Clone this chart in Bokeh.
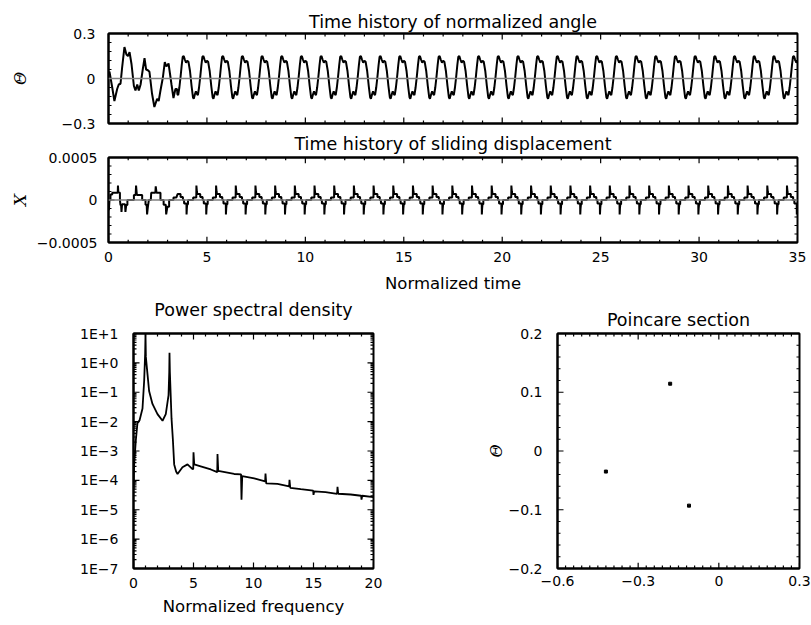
import numpy as np
from bokeh.plotting import figure
from bokeh.layouts import column, row
from bokeh.models import FixedTicker, Span, Range1d, CustomJSTickFormatter, LinearAxis
from bokeh.embed import file_html
from bokeh.resources import INLINE

# ---------------- data ----------------
# normalized angle: first (transient) cycles
theta_t_start = [0.00, 0.05, 0.19, 0.30, 0.44, 0.52, 0.61, 0.69, 0.81, 0.91, 0.99, 1.07, 1.17,
                 1.29, 1.37, 1.46, 1.54, 1.63, 1.74, 1.83, 1.91, 2.00, 2.08, 2.21, 2.33, 2.47,
                 2.55, 2.64, 2.76, 2.86, 2.94, 3.05, 3.20, 3.30, 3.40, 3.48]
theta_v_start = [0.030, 0.045, -0.060, -0.150, -0.070, -0.040, -0.035, 0.070, 0.210, 0.160,
                 0.150, 0.175, 0.095, -0.050, -0.080, -0.040, -0.080, -0.040, 0.060, 0.135,
                 0.060, 0.055, 0.045, -0.100, -0.190, -0.135, -0.150, -0.080, 0.005, 0.110,
                 0.080, 0.100, -0.040, -0.130, -0.070, -0.070]
# normalized angle: one steady-state period (position inside a unit of time, value)
theta_cycle_phase = [0.00, 0.06, 0.14, 0.22, 0.29, 0.33, 0.39, 0.44, 0.50, 0.54, 0.60, 0.66,
                     0.72, 0.77, 0.82, 0.88, 0.94]
theta_cycle_value = [0.118, 0.112, 0.050, -0.050, -0.125, -0.135, -0.105, -0.085, -0.105,
                     -0.110, -0.060, 0.010, 0.090, 0.145, 0.150, 0.125, 0.105]

# sliding displacement: first (transient) cycles
slide_t_start = [0.00, 0.02, 0.05, 0.10, 0.10, 0.19, 0.19, 0.47, 0.48, 0.50, 0.58, 0.58, 0.61,
                 0.64, 0.66, 0.69, 0.84, 0.86, 0.90, 0.96, 0.96, 1.29, 1.29, 1.38, 1.40, 1.44,
                 1.71, 1.71, 1.88, 1.88, 1.94, 1.96, 2.00, 2.05, 2.15, 2.17, 2.38, 2.40, 2.44,
                 2.64, 2.64, 2.80, 2.80, 2.91, 2.93, 2.99, 3.08, 3.08, 3.30, 3.30, 3.45]
slide_v_start = [0.0, -1.2e-4, 0.0, 0.0, 0.65e-4, 0.65e-4, 0.85e-4, 0.85e-4, 1.7e-4, 0.9e-4,
                 0.85e-4, 0.0, -0.6e-4, -0.6e-4, -1.4e-4, -0.5e-4, -0.5e-4, -1.4e-4, -0.6e-4,
                 -0.6e-4, 0.0, 0.0, 0.6e-4, 0.6e-4, 1.7e-4, 0.6e-4, 0.6e-4, 0.0, 0.0, -0.55e-4,
                 -0.55e-4, -1.7e-4, -0.8e-4, 0.0, 0.0, 0.85e-4, 0.85e-4, 1.6e-4, 0.85e-4,
                 0.85e-4, 0.0, 0.0, -0.55e-4, -0.55e-4, -1.7e-4, -0.8e-4, -0.8e-4, 0.0, 0.0,
                 0.3e-4, 0.3e-4]
# sliding displacement: one steady-state period
slide_cycle_phase = [0.00, 0.04, 0.04, 0.30, 0.30, 0.46, 0.465, 0.49, 0.51, 0.66, 0.66, 0.78,
                     0.78, 0.84, 0.84, 0.96, 0.965, 0.98]
slide_cycle_value = [-0.5e-4, -0.5e-4, 0.0, 0.0, 0.3e-4, 0.3e-4, 1.7e-4, 1.0e-4, 0.7e-4,
                     0.7e-4, 0.35e-4, 0.35e-4, 0.0, 0.0, -0.4e-4, -0.4e-4, -1.7e-4, -1.0e-4]

steady_from = 3.5
time_end = 35

# power spectral density
psd_freq = [0.0, 0.05, 0.2, 0.33, 0.5, 0.75, 0.89, 0.97, 1.0, 1.03, 1.17, 1.3, 1.58, 2.0,
            2.42, 2.69, 2.92, 2.98, 3.0, 3.03, 3.17, 3.28, 3.39, 3.55, 3.67, 4.08, 4.5, 4.92,
            4.98, 5.0, 5.06, 5.6, 6.44, 6.98, 7.0, 7.06, 8.39, 8.96, 9.0, 9.06, 10.06, 10.97,
            11.0, 11.06, 12.0, 12.97, 13.0, 13.06, 13.94, 14.97, 15.0, 15.06, 16.0, 16.97,
            17.0, 17.06, 18.1, 18.97, 19.0, 19.06, 20.0]
psd_value = [5.0e-5, 3.2e-4, 2.5e-3, 8.9e-3, 1.1e-2, 2.8e-2, 0.25, 2.0, 9.8, 1.6, 0.4, 0.11,
             0.04, 0.018, 0.0107, 0.018, 0.08, 0.5, 2.2, 0.5, 0.0126, 0.0025, 3.5e-4, 2.0e-4,
             1.65e-4, 2.8e-4, 3.5e-4, 2.4e-4, 2.5e-4, 9.1e-4, 3.5e-4, 3.0e-4, 2.35e-4, 1.9e-4,
             7.9e-4, 2.1e-4, 1.65e-4, 1.6e-4, 2.2e-5, 1.4e-4, 1.17e-4, 9.3e-5, 1.7e-4, 7.9e-5,
             7.6e-5, 6.3e-5, 1.05e-4, 5.6e-5, 5.0e-5, 4.5e-5, 3.2e-5, 4.2e-5, 4.0e-5, 3.5e-5,
             6.0e-5, 3.5e-5, 3.3e-5, 3.0e-5, 2.2e-5, 3.0e-5, 2.7e-5]

# Poincare section
poincare_x = [-0.420, -0.181, -0.111]
poincare_theta = [-0.035, 0.1145, -0.093]

# titles
title_angle = "Time history of normalized angle"
title_slide = "Time history of sliding displacement"
title_psd = "Power spectral density"
title_poincare = "Poincare section"

# ticks and tick labels
time_ticks = [0, 5, 10, 15, 20, 25, 30, 35]
time_labels = ["0", "5", "10", "15", "20", "25", "30", "35"]
theta_ticks = [-0.3, 0.0, 0.3]
theta_labels = ["\u22120.3", "0", "0.3"]
slide_ticks = [-0.0005, 0.0, 0.0005]
slide_labels = ["\u22120.0005", "0", "0.0005"]
freq_ticks = [0, 5, 10, 15, 20]
freq_labels = ["0", "5", "10", "15", "20"]
psd_ticks = [1e-7, 1e-6, 1e-5, 1e-4, 1e-3, 1e-2, 1e-1, 1e0, 1e1]
psd_labels = ["1E\u22127", "1E\u22126", "1E\u22125", "1E\u22124", "1E\u22123", "1E\u22122",
              "1E\u22121", "1E+0", "1E+1"]
px_ticks = [-0.6, -0.3, 0.0, 0.3]
px_labels = ["\u22120.6", "\u22120.3", "0", "0.3"]
py_ticks = [-0.2, -0.1, 0.0, 0.1, 0.2]
py_labels = ["\u22120.2", "\u22120.1", "0", "0.1", "0.2"]


def periodic_series(t0, v0, phases, values, start, end):
    t, v = list(t0), list(v0)
    for n in range(int(start), end + 1):
        for ph, val in zip(phases, values):
            tt = n + ph
            if start <= tt <= end:
                t.append(tt)
                v.append(val)
    return t, v


theta_t, theta_v = periodic_series(theta_t_start, theta_v_start, theta_cycle_phase,
                                   theta_cycle_value, steady_from, time_end)
slide_t, slide_v = periodic_series(slide_t_start, slide_v_start, slide_cycle_phase,
                                   slide_cycle_value, steady_from, time_end)

# ---------------- styling helpers ----------------
FONT = "DejaVu Sans"
SERIF = "DejaVu Serif"
MAJOR_LEN = 6
MINOR_LEN = 3
TICK_W = 1.2


def label_formatter(tv, tl):
    return CustomJSTickFormatter(args=dict(tvals=list(tv), tlabels=list(tl)), code="""
        let best = 0, bd = Infinity;
        for (let i = 0; i < tvals.length; i++) {
            const d = Math.abs(tvals[i] - tick);
            if (d < bd) { bd = d; best = i; }
        }
        return tlabels[best];
    """)


def style_axis(ax, ticker, formatter, show=True, standoff=12):
    ax.ticker = ticker
    ax.major_tick_in = 0
    ax.major_tick_out = 0
    ax.minor_tick_in = 0
    ax.minor_tick_out = 0
    ax.axis_line_width = 2
    ax.axis_line_color = "black"
    ax.major_label_text_font = FONT
    ax.major_label_text_font_size = "14px"
    ax.major_label_text_color = "black"
    ax.axis_label_text_font = FONT
    ax.axis_label_text_font_size = "16.5px"
    ax.axis_label_text_font_style = "normal"
    ax.axis_label_text_color = "black"
    if show:
        ax.formatter = formatter
        ax.major_label_standoff = standoff
    else:
        ax.formatter = CustomJSTickFormatter(code="return '';")
        ax.major_label_standoff = 0


def make_fig(w, h, left, right, top, bottom, xr, yr, y_type="linear"):
    p = figure(width=w, height=h, x_range=Range1d(*xr), y_range=Range1d(*yr),
               y_axis_type=y_type, output_backend="svg", toolbar_location=None,
               min_border_left=left, min_border_right=right,
               min_border_top=top, min_border_bottom=bottom)
    p.xgrid.visible = False
    p.ygrid.visible = False
    p.outline_line_color = "black"
    p.outline_line_width = 2
    p.background_fill_color = "white"
    p.border_fill_color = "white"
    return p


def add_title(p, text, ticker, standoff):
    """Panel heading, drawn as the label of an axis along the top of the frame."""
    top = LinearAxis()
    style_axis(top, ticker, None, show=False)
    top.axis_label = text
    top.axis_label_text_font_size = "17.5px"
    top.axis_label_standoff = standoff
    p.add_layout(top, "above")


def inward_ticks(p, xr, yr, frame_w, frame_h, xmaj, xmin, ymaj, ymin, log_y=False):
    """Tick marks pointing into the frame on all four sides, as one broken polyline."""
    xs, ys = [], []
    xspan = xr[1] - xr[0]
    for vals, ln in ((xmin, MINOR_LEN), (xmaj, MAJOR_LEN)):
        if log_y:
            f = 10 ** (np.log10(yr[1] / yr[0]) * ln / frame_h)
            b1, t1 = yr[0] * f, yr[1] / f
        else:
            d = (yr[1] - yr[0]) * ln / frame_h
            b1, t1 = yr[0] + d, yr[1] - d
        for v in vals:
            xs += [v, v, np.nan, v, v, np.nan]
            ys += [yr[0], b1, np.nan, yr[1], t1, np.nan]
    for vals, ln in ((ymin, MINOR_LEN), (ymaj, MAJOR_LEN)):
        d = xspan * ln / frame_w
        for v in vals:
            xs += [xr[0], xr[0] + d, np.nan, xr[1], xr[1] - d, np.nan]
            ys += [v, v, np.nan, v, v, np.nan]
    p.line(np.array(xs, dtype=float), np.array(ys, dtype=float), line_color="black",
           line_width=TICK_W)


time_minor = [float(v) for v in np.arange(0, 35.01, 1.0)]
time_ticker = FixedTicker(ticks=time_ticks, minor_ticks=time_minor)
time_range = (0, 35)

# ---------------- figure A: normalized angle ----------------
theta_range = (-0.3, 0.3)
pa = make_fig(811, 130, 108, 14, 33, 7, time_range, theta_range)
theta_minor = [float(v) for v in np.arange(-0.3, 0.301, 0.06)]
theta_ticker = FixedTicker(ticks=theta_ticks, minor_ticks=theta_minor)
style_axis(pa.xaxis[0], time_ticker, None, show=False)
style_axis(pa.yaxis[0], theta_ticker, label_formatter(theta_ticks, theta_labels), standoff=13)
pa.yaxis[0].axis_label = "\u0398"
pa.yaxis[0].axis_label_text_font = SERIF
pa.yaxis[0].axis_label_text_font_style = "italic"
pa.yaxis[0].axis_label_text_font_size = "16px"
pa.yaxis[0].axis_label_standoff = 29
pa.add_layout(Span(location=0, dimension="width", line_color="#808080", line_width=1.5))
inward_ticks(pa, time_range, theta_range, 689, 90, time_ticks, time_minor, theta_ticks, theta_minor)
pa.line(theta_t, theta_v, line_color="black", line_width=2)
add_title(pa, title_angle, time_ticker, 2)

# ---------------- figure B: sliding displacement ----------------
slide_range = (-0.0005, 0.0005)
pb = make_fig(811, 165, 108, 14, 23, 52, time_range, slide_range)
slide_minor = [float(v) for v in np.arange(-0.0005, 0.00051, 0.0001)]
slide_ticker = FixedTicker(ticks=slide_ticks, minor_ticks=slide_minor)
style_axis(pb.xaxis[0], time_ticker, label_formatter(time_ticks, time_labels), standoff=9)
pb.xaxis[0].axis_label = "Normalized time"
pb.xaxis[0].axis_label_standoff = 9
style_axis(pb.yaxis[0], slide_ticker, label_formatter(slide_ticks, slide_labels), standoff=11)
pb.yaxis[0].axis_label = "X"
pb.yaxis[0].axis_label_text_font = SERIF
pb.yaxis[0].axis_label_text_font_style = "italic"
pb.yaxis[0].axis_label_text_font_size = "17px"
pb.yaxis[0].axis_label_standoff = 4
pb.add_layout(Span(location=0, dimension="width", line_color="#808080", line_width=1.5))
inward_ticks(pb, time_range, slide_range, 689, 90, time_ticks, time_minor, slide_ticks, slide_minor)
pb.line(slide_t, slide_v, line_color="black", line_width=2)
add_title(pb, title_slide, time_ticker, 4)

# ---------------- figure C: power spectral density ----------------
freq_range = (0, 20)
psd_range = (1e-7, 1e1)
pc = make_fig(420, 330, 133, 47, 34, 57, freq_range, psd_range, y_type="log")
freq_minor = [float(v) for v in np.arange(0, 20.01, 1.0)]
freq_ticker = FixedTicker(ticks=freq_ticks, minor_ticks=freq_minor)
psd_minor = [m * 10.0 ** e for e in range(-7, 1) for m in range(2, 10)]
psd_ticker = FixedTicker(ticks=psd_ticks, minor_ticks=psd_minor)
style_axis(pc.xaxis[0], freq_ticker, label_formatter(freq_ticks, freq_labels), standoff=9)
pc.xaxis[0].axis_label = "Normalized frequency"
pc.xaxis[0].axis_label_standoff = 6
style_axis(pc.yaxis[0], psd_ticker, label_formatter(psd_ticks, psd_labels), standoff=15)
inward_ticks(pc, freq_range, psd_range, 240, 239, freq_ticks, freq_minor, psd_ticks, psd_minor,
             log_y=True)
pc.line(psd_freq, psd_value, line_color="black", line_width=1.8)
add_title(pc, title_psd, freq_ticker, 14)

# ---------------- figure D: Poincare section ----------------
pxr = (-0.6, 0.3)
pyr = (-0.2, 0.2)
pd_ = make_fig(391, 330, 137, 12, 38, 52, pxr, pyr)
px_minor = [float(v) for v in np.arange(-0.6, 0.301, 0.03)]
py_minor = [float(v) for v in np.arange(-0.2, 0.201, 0.02)]
px_ticker = FixedTicker(ticks=px_ticks, minor_ticks=px_minor)
py_ticker = FixedTicker(ticks=py_ticks, minor_ticks=py_minor)
style_axis(pd_.xaxis[0], px_ticker, label_formatter(px_ticks, px_labels), standoff=7)
style_axis(pd_.yaxis[0], py_ticker, label_formatter(py_ticks, py_labels), standoff=15)
pd_.yaxis[0].axis_label = "\u0398"
pd_.yaxis[0].axis_label_text_font = SERIF
pd_.yaxis[0].axis_label_text_font_style = "italic"
pd_.yaxis[0].axis_label_text_font_size = "16px"
pd_.yaxis[0].axis_label_standoff = 0
inward_ticks(pd_, pxr, pyr, 242, 240, px_ticks, px_minor, py_ticks, py_minor)
pd_.scatter(poincare_x, poincare_theta, marker="square", size=3, fill_color="black",
            line_color="black")
add_title(pd_, title_poincare, px_ticker, 4)

layout = column(pa, pb, row(pc, pd_))
open("out.html", "w").write(file_html(layout, INLINE))
